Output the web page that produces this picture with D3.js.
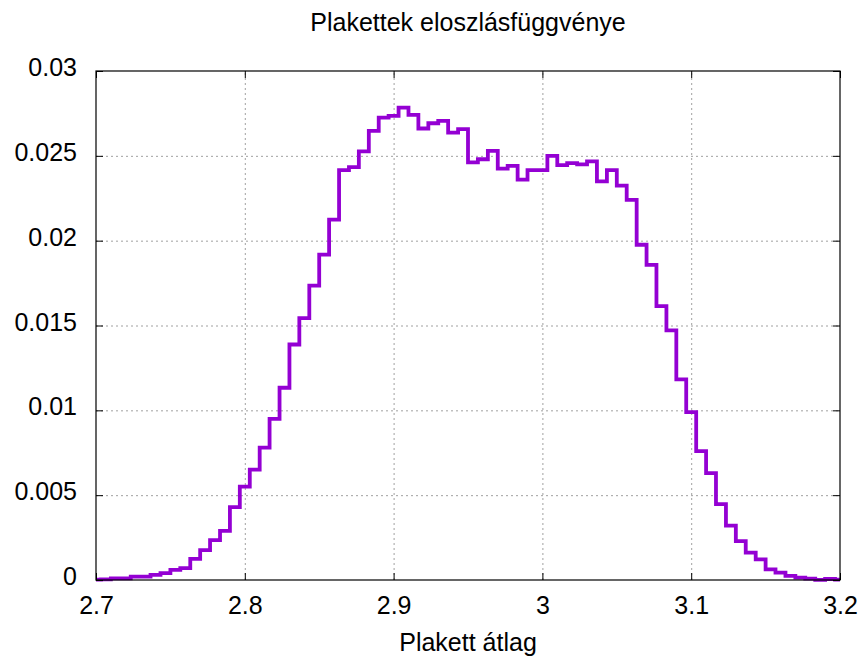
<!DOCTYPE html>
<html>
<head>
<meta charset="utf-8">
<script src="https://cdn.jsdelivr.net/npm/d3@7"></script>
<style>
  html, body { margin: 0; padding: 0; background: #fff; }
  svg text { font-family: "Liberation Sans", Arial, sans-serif; fill: #000; }
</style>
</head>
<body>
<svg id="chart" width="862" height="660"></svg>
<script>
// ---- data ----
const binCenters = [
  2.7000, 2.7067, 2.7133, 2.7200, 2.7267, 2.7333, 2.7400, 2.7467, 2.7533, 2.7600,
  2.7667, 2.7733, 2.7800, 2.7867, 2.7933, 2.8000, 2.8067, 2.8133, 2.8200, 2.8267,
  2.8333, 2.8400, 2.8467, 2.8533, 2.8600, 2.8667, 2.8733, 2.8800, 2.8867, 2.8933,
  2.9000, 2.9067, 2.9133, 2.9200, 2.9267, 2.9333, 2.9400, 2.9467, 2.9533, 2.9600,
  2.9667, 2.9733, 2.9800, 2.9867, 2.9933, 3.0000, 3.0067, 3.0133, 3.0200, 3.0267,
  3.0333, 3.0400, 3.0467, 3.0533, 3.0600, 3.0667, 3.0733, 3.0800, 3.0867, 3.0933,
  3.1000, 3.1067, 3.1133, 3.1200, 3.1267, 3.1333, 3.1400, 3.1467, 3.1533, 3.1600,
  3.1667, 3.1733, 3.1800, 3.1867, 3.1933, 3.2000
];
const density = [
  0.00002, 0.00004, 0.00010, 0.00010, 0.00020, 0.00020, 0.00030, 0.00040, 0.00060, 0.00070,
  0.00124, 0.00176, 0.00235, 0.00290, 0.00430, 0.00550, 0.00650, 0.00780, 0.00950, 0.01133,
  0.01388, 0.01543, 0.01735, 0.01918, 0.02124, 0.02416, 0.02434, 0.02526, 0.02647, 0.02725,
  0.02735, 0.02784, 0.02741, 0.02661, 0.02692, 0.02706, 0.02637, 0.02657, 0.02461, 0.02480,
  0.02529, 0.02425, 0.02441, 0.02360, 0.02416, 0.02416, 0.02500, 0.02445, 0.02457, 0.02450,
  0.02467, 0.02349, 0.02416, 0.02324, 0.02241, 0.01976, 0.01857, 0.01614, 0.01471, 0.01182,
  0.00990, 0.00760, 0.00630, 0.00447, 0.00320, 0.00229, 0.00161, 0.00122, 0.00063, 0.00043,
  0.00024, 0.00014, 0.00008, 0.00001, 0.00006, 0.00002
];
const xTicks = [2.7, 2.8, 2.9, 3.0, 3.1, 3.2];
const xTickLabels = ["2.7", "2.8", "2.9", "3", "3.1", "3.2"];
const yTicks = [0, 0.005, 0.01, 0.015, 0.02, 0.025, 0.03];
const yTickLabels = ["0", "0.005", "0.01", "0.015", "0.02", "0.025", "0.03"];
const titleText = "Plakettek eloszlásfüggvénye";
const xLabelText = "Plakett átlag";

// ---- layout ----
const svg = d3.select("#chart");
const L = 96, R = 840, T = 71, B = 580;
const W = R - L, H = B - T;
const fontSize = 25;

const x = d3.scaleLinear().domain([2.7, 3.2]).range([L, R]);
const y = d3.scaleLinear().domain([0, 0.03]).range([B, T]);

// grid
const grid = svg.append("g");
grid.append("g")
  .attr("transform", `translate(0,${B})`)
  .call(d3.axisBottom(x).tickValues(xTicks.slice(1, -1)).tickSize(-H).tickFormat(""))
  .call(g => g.select(".domain").remove())
  .call(g => g.selectAll("line").attr("stroke", "#a0a0a0").attr("stroke-width", 1).attr("stroke-dasharray", "2,3"));
grid.append("g")
  .attr("transform", `translate(${L},0)`)
  .call(d3.axisLeft(y).tickValues(yTicks.slice(1, -1)).tickSize(-W).tickFormat(""))
  .call(g => g.select(".domain").remove())
  .call(g => g.selectAll("line").attr("stroke", "#a0a0a0").attr("stroke-width", 1).attr("stroke-dasharray", "2,3"));

// clip
svg.append("defs").append("clipPath").attr("id", "plotclip")
  .append("rect").attr("x", L).attr("y", T - 3).attr("width", W).attr("height", H + 6);

// data line (histeps)
const pts = binCenters.map((c, i) => [c, density[i]]);
const line = d3.line().x(d => x(d[0])).y(d => y(d[1])).curve(d3.curveStep);
svg.append("path")
  .attr("d", line(pts))
  .attr("clip-path", "url(#plotclip)")
  .attr("fill", "none")
  .attr("stroke", "#9400d3")
  .attr("stroke-width", 3.8)
  .attr("stroke-linejoin", "miter")
  .attr("stroke-linecap", "square");

// axes with inward ticks (mirrored)
const tickLen = 7;
function styleAxis(g) {
  g.select(".domain").remove();
  g.selectAll("line").attr("stroke", "#000").attr("stroke-width", 1);
  g.selectAll("text").attr("font-size", fontSize).attr("font-family", "Liberation Sans, Arial, sans-serif").attr("fill", "#000");
}
svg.append("g")
  .attr("transform", `translate(0,${B})`)
  .call(d3.axisBottom(x).tickValues(xTicks).tickSize(-tickLen).tickPadding(tickLen + 9)
    .tickFormat((d, i) => xTickLabels[i]))
  .call(styleAxis);
svg.append("g")
  .attr("transform", `translate(0,${T})`)
  .call(d3.axisTop(x).tickValues(xTicks).tickSize(-tickLen).tickFormat(""))
  .call(styleAxis);
svg.append("g")
  .attr("transform", `translate(${L},0)`)
  .call(d3.axisLeft(y).tickValues(yTicks).tickSize(-tickLen).tickPadding(tickLen + 12)
    .tickFormat((d, i) => yTickLabels[i]))
  .call(styleAxis)
  .call(g => g.selectAll("text").attr("dy", "0.18em"));
svg.append("g")
  .attr("transform", `translate(${R},0)`)
  .call(d3.axisRight(y).tickValues(yTicks).tickSize(-tickLen).tickFormat(""))
  .call(styleAxis);

// border
svg.append("rect")
  .attr("x", L).attr("y", T).attr("width", W).attr("height", H)
  .attr("fill", "none").attr("stroke", "#000").attr("stroke-width", 1.2);

// title & label
svg.append("text")
  .attr("x", 468).attr("y", 31)
  .attr("text-anchor", "middle").attr("font-size", fontSize)
  .text(titleText);
svg.append("text")
  .attr("x", 468).attr("y", 651)
  .attr("text-anchor", "middle").attr("font-size", fontSize)
  .text(xLabelText);
</script>
</body>
</html>
